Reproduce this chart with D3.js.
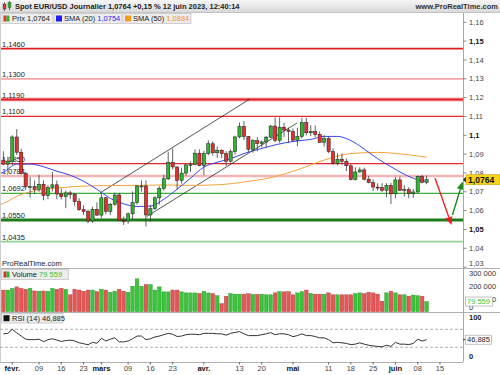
<!DOCTYPE html>
<html>
<head>
<meta charset="utf-8">
<script src="https://cdn.jsdelivr.net/npm/d3@7/dist/d3.min.js"></script>
<style>
  body { margin: 0; background: #fff; }
  svg { display: block; font-family: "Liberation Sans", Arial, sans-serif; }
</style>
</head>
<body>
<svg id="chart" width="500" height="375"></svg>
<script>
// trading days (2023), one candle each
const days = [
  '01-30', '01-31',
  '02-01', '02-02', '02-03', '02-06', '02-07', '02-08', '02-09', '02-10', '02-13', '02-14',
  '02-15', '02-16', '02-17', '02-20', '02-21', '02-22', '02-23', '02-24', '02-27', '02-28',
  '03-01', '03-02', '03-03', '03-06', '03-07', '03-08', '03-09', '03-10', '03-13', '03-14',
  '03-15', '03-16', '03-17', '03-20', '03-21', '03-22', '03-23', '03-24', '03-27', '03-28',
  '03-29', '03-30', '03-31',
  '04-03', '04-04', '04-05', '04-06', '04-07', '04-10', '04-11', '04-12', '04-13', '04-14',
  '04-17', '04-18', '04-19', '04-20', '04-21', '04-24', '04-25', '04-26', '04-27', '04-28',
  '05-01', '05-02', '05-03', '05-04', '05-05', '05-08', '05-09', '05-10', '05-11', '05-12',
  '05-15', '05-16', '05-17', '05-18', '05-19', '05-22', '05-23', '05-24', '05-25', '05-26',
  '05-29', '05-30', '05-31',
  '06-01', '06-02', '06-05', '06-06', '06-07', '06-08', '06-09', '06-12'
]
const futureDays = ['06-13', '06-14', '06-15', '06-16', '06-19']

const open = [
  1.0868, 1.0847,
  1.0863, 1.0991, 1.0910, 1.0797, 1.0727, 1.0727, 1.0713, 1.0740, 1.0680, 1.0722,
  1.0737, 1.0688, 1.0674, 1.0694, 1.0687, 1.0648, 1.0605, 1.0596, 1.0545, 1.0607,
  1.0576, 1.0668, 1.0596, 1.0634, 1.0683, 1.0548, 1.0545, 1.0583, 1.0642, 1.0731,
  1.0731, 1.0577, 1.0610, 1.0668, 1.0717, 1.0769, 1.0856, 1.0832, 1.0760, 1.0799,
  1.0843, 1.0845, 1.0905,
  1.0839, 1.0902, 1.0955, 1.0907, 1.0921, 1.0902, 1.0862, 1.0913, 1.0991, 1.1046,
  1.0993, 1.0925, 1.0971, 1.0956, 1.0965, 1.0990, 1.1049, 1.0973, 1.1043, 1.1028,
  1.1020, 1.0974, 1.0994, 1.1067, 1.1013, 1.1020, 1.1005, 1.0962, 1.0982, 1.0914,
  1.0850, 1.0873, 1.0862, 1.0838, 1.0766, 1.0805, 1.0816, 1.0767, 1.0749, 1.0725,
  1.0722, 1.0707, 1.0733,
  1.0689, 1.0763, 1.0708, 1.0712, 1.0692, 1.0699, 1.0781, 1.0749
]
const high = [
  1.0915, 1.0887,
  1.1000, 1.1033, 1.0928, 1.0805, 1.0777, 1.0760, 1.0790, 1.0760, 1.0736, 1.0805,
  1.0760, 1.0718, 1.0707, 1.0705, 1.0694, 1.0665, 1.0628, 1.0605, 1.0621, 1.0644,
  1.0691, 1.0672, 1.0640, 1.0695, 1.0694, 1.0568, 1.0590, 1.0701, 1.0736, 1.0760,
  1.0760, 1.0630, 1.0675, 1.0730, 1.0790, 1.0912, 1.0930, 1.0835, 1.0828, 1.0845,
  1.0860, 1.0926, 1.0925,
  1.0917, 1.0973, 1.0968, 1.0940, 1.0925, 1.0915, 1.0925, 1.0998, 1.1068, 1.1076,
  1.0996, 1.0980, 1.0990, 1.0972, 1.0997, 1.1055, 1.1095, 1.1095, 1.1067, 1.1040,
  1.1036, 1.1040, 1.1092, 1.1092, 1.1054, 1.1052, 1.1020, 1.1002, 1.0993, 1.0930,
  1.0905, 1.0904, 1.0876, 1.0847, 1.0830, 1.0830, 1.0828, 1.0785, 1.0765, 1.0745,
  1.0745, 1.0745, 1.0747,
  1.0779, 1.0780, 1.0735, 1.0725, 1.0715, 1.0785, 1.0790, 1.0787
]
const low = [
  1.0841, 1.0801,
  1.0843, 1.0896, 1.0792, 1.0710, 1.0669, 1.0690, 1.0700, 1.0655, 1.0660, 1.0702,
  1.0660, 1.0659, 1.0613, 1.0663, 1.0625, 1.0598, 1.0577, 1.0533, 1.0535, 1.0571,
  1.0560, 1.0581, 1.0577, 1.0626, 1.0545, 1.0524, 1.0530, 1.0552, 1.0632, 1.0701,
  1.0516, 1.0541, 1.0604, 1.0632, 1.0705, 1.0762, 1.0819, 1.0713, 1.0743, 1.0785,
  1.0805, 1.0840, 1.0835,
  1.0788, 1.0895, 1.0893, 1.0880, 1.0878, 1.0837, 1.0855, 1.0898, 1.0985, 1.0975,
  1.0912, 1.0908, 1.0915, 1.0936, 1.0935, 1.0985, 1.0964, 1.0960, 1.0990, 1.0960,
  1.0967, 1.0942, 1.0983, 1.1000, 1.0995, 1.0990, 1.0960, 1.0940, 1.0905, 1.0844,
  1.0840, 1.0845, 1.0810, 1.0760, 1.0760, 1.0802, 1.0760, 1.0745, 1.0705, 1.0706,
  1.0700, 1.0670, 1.0635,
  1.0665, 1.0703, 1.0675, 1.0665, 1.0668, 1.0694, 1.0745, 1.0740
]
const close = [
  1.0847, 1.0863,
  1.0991, 1.0910, 1.0797, 1.0727, 1.0727, 1.0713, 1.0740, 1.0680, 1.0722, 1.0737,
  1.0688, 1.0674, 1.0694, 1.0687, 1.0648, 1.0605, 1.0596, 1.0545, 1.0607, 1.0576,
  1.0668, 1.0596, 1.0634, 1.0683, 1.0548, 1.0545, 1.0583, 1.0642, 1.0731, 1.0731,
  1.0577, 1.0610, 1.0668, 1.0717, 1.0769, 1.0856, 1.0832, 1.0760, 1.0799, 1.0843,
  1.0845, 1.0905, 1.0839,
  1.0902, 1.0955, 1.0907, 1.0921, 1.0902, 1.0862, 1.0913, 1.0991, 1.1046, 1.0993,
  1.0925, 1.0971, 1.0956, 1.0965, 1.0990, 1.1049, 1.0973, 1.1043, 1.1028, 1.1020,
  1.0974, 1.0994, 1.1067, 1.1013, 1.1020, 1.1005, 1.0962, 1.0982, 1.0914, 1.0850,
  1.0873, 1.0862, 1.0838, 1.0766, 1.0805, 1.0816, 1.0767, 1.0749, 1.0725, 1.0722,
  1.0707, 1.0733, 1.0689,
  1.0763, 1.0708, 1.0712, 1.0692, 1.0699, 1.0781, 1.0749, 1.0764
]
const volume = [
  169000, 169000, 182000, 194000, 182000, 175000, 182000, 162000, 160000, 162000,
  160000, 182000, 175000, 182000, 175000, 132000, 175000, 169000, 160000, 169000,
  169000, 157000, 175000, 169000, 152000, 160000, 175000, 160000, 152000, 199000,
  257000, 199000, 212000, 212000, 169000, 194000, 155000, 155000, 169000, 169000,
  155000, 147000, 147000, 147000, 142000, 160000, 147000, 142000, 125000, 63000,
  120000, 142000, 137000, 137000, 137000, 140000,
  135000, 135000, 137000, 132000, 132000, 147000, 157000, 155000, 157000, 132000,
  147000, 157000, 169000, 142000, 137000, 137000, 137000, 147000, 132000, 132000,
  132000, 132000, 132000, 142000, 147000, 142000, 152000, 147000, 137000, 82000,
  147000, 160000, 147000, 132000, 132000, 122000, 130000, 125000, 120000, 79559
]
const rsi = [
  60, 61, 70, 62, 55, 48, 47, 47, 48, 42.5,
  47, 49, 46, 43, 45, 46, 44, 40, 38, 35.6,
  41, 39, 50, 44, 48, 51, 42, 42, 44, 49,
  55, 55, 47, 49, 53, 55, 58, 61, 59, 54,
  55, 58, 59, 59, 58, 61, 61, 61, 60, 60,
  57, 61, 63, 65, 60, 56,
  56, 56, 58, 60, 62.5, 58, 60, 60, 58, 53.7,
  56, 60, 56, 56, 54, 51, 51, 47, 40, 41,
  40, 38.5, 36, 37, 40, 37, 34.6, 33, 32, 31,
  34.6, 32, 41, 37, 37, 36, 38.5, 48, 44, 46.885
]

// moving averages at these day indices
const sma20Idx = [-1, 0, 3, 6, 9, 12, 15, 18, 21, 24, 27, 30, 33, 36, 39, 42, 45, 48, 51, 54,
  57, 60, 63, 66, 69, 72, 75, 78, 81, 84, 87, 90, 93, 95]
const sma20 = [1.0795, 1.0804, 1.0847, 1.0847, 1.0833, 1.0809, 1.0788, 1.0756, 1.0713, 1.0665,
  1.0636, 1.0622, 1.0624, 1.0660, 1.0714, 1.0772, 1.0831, 1.0857, 1.0876, 1.0903,
  1.0924, 1.0943, 1.0959, 1.0970, 1.0978, 1.0994, 1.0994, 1.0972, 1.0927, 1.0876,
  1.0833, 1.0793, 1.0764, 1.0754]
const sma50Idx = [-1, 0, 3, 6, 9, 13, 18, 24, 30, 36, 42, 48, 54, 60, 66, 72, 78, 84, 90, 95]
const sma50 = [1.0630, 1.0638, 1.0676, 1.0700, 1.0713, 1.0722, 1.0730, 1.0733, 1.0734, 1.0736,
  1.0734, 1.0737, 1.0752, 1.0775, 1.0817, 1.0868, 1.0903, 1.0909, 1.0899, 1.0884]

// horizontal levels drawn by the author
const levels = [1.1460, 1.1300, 1.1190, 1.1100, 1.0850, 1.0784, 1.0692, 1.0550, 1.0435]
const levelLabels = ['1,1460', '1,1300', '1,1190', '1,1100', '1,0850', '1,0784', '1,0692', '1,0550', '1,0435']

// channel lines and arrows: [dayIndex, price]
const channelUpper = [[21.7, 1.0694], [55.35, 1.1193]]
const channelLower = [[32.2, 1.0569], [65.9, 1.1065]]
const arrowDown = [[96.9, 1.0772], [100.6, 1.0524]]
const arrowUp = [[100.8, 1.0577], [103.1, 1.0754]]

const priceTicks = [1.03, 1.04, 1.05, 1.06, 1.07, 1.08, 1.09, 1.10, 1.11, 1.12, 1.13, 1.14, 1.15, 1.16]
const priceTickLabels = ['1,03', '1,04', '1,05', '1,06', '1,07', '1,08', '1,09', '1,1', '1,11', '1,12', '1,13', '1,14', '1,15', '1,16']
const volTicks = [0, 100000, 200000, 300000]
const volTickLabels = ['0', '100 000', '200 000', '300 000']
const xTickDays = ['02-01', '02-09', '02-16', '02-23', '03-01', '03-09', '03-16', '03-23', '04-03',
  '04-13', '04-20', '05-01', '05-11', '05-18', '05-25', '06-01', '06-08', '06-15']
const xTickLabels = ['févr.', '09', '16', '23', 'mars', '09', '16', '23', 'avr.',
  '13', '20', 'mai', '11', '18', '25', 'juin', '08', '15']

const lastPrice = '1,0764'
const lastVolume = '79 559'
const lastRsi = '46,885'

// ---- styles / layout
const levelStyle = [
  { color: '#e41f26', width: 1.6 },
  { color: '#f4a5a5', width: 1.8 },
  { color: '#e41f26', width: 2.2, halo: '#f6b4b4' },
  { color: '#e8262d', width: 1.2 },
  { color: '#e8262d', width: 1.2 },
  { color: '#f5b4b4', width: 2.6 },
  { color: '#3aad3a', width: 1.2 },
  { color: '#1d7d1d', width: 3 },
  { color: '#93d493', width: 1.8 }
]
const axisX = 463
const mainTop = 13
const mainBottom = 268
const volBottom = 312
const rsiBottom = 362
const font = 7.5

const svg = d3.select('#chart')
const defs = svg.append('defs')

const grad = defs.append('linearGradient').attr('id', 'hdr').attr('x1', 0).attr('x2', 0).attr('y1', 0).attr('y2', 1)
grad.append('stop').attr('offset', '0%').attr('stop-color', '#f6f6f6')
grad.append('stop').attr('offset', '100%').attr('stop-color', '#d9d9d9')

defs.append('clipPath').attr('id', 'clipMain')
  .append('rect').attr('x', 0).attr('y', mainTop).attr('width', axisX).attr('height', mainBottom - mainTop)

const allDays = days.concat(futureDays)
const x = d3.scaleLinear().domain([0, days.length - 1]).range([3.4, 426.6])
const y = d3.scaleLinear().domain([1.03, 1.16]).range([267.1, 22.3])
const yVol = d3.scaleLinear().domain([0, 300000]).range([311.7, 273.3])
const yRsi = d3.scaleLinear().domain([0, 100]).range([360.8, 315.8])

// ---- header
svg.append('rect').attr('x', 0).attr('y', 0).attr('width', 500).attr('height', 12).attr('fill', 'url(#hdr)')
svg.append('line').attr('x1', 0).attr('x2', 500).attr('y1', 12.5).attr('y2', 12.5).attr('stroke', '#c4c4c4')

const icon = svg.append('g')
icon.append('line').attr('x1', 4.5).attr('x2', 4.5).attr('y1', 2).attr('y2', 11).attr('stroke', '#333').attr('stroke-width', 0.7)
icon.append('rect').attr('x', 3).attr('y', 4).attr('width', 3).attr('height', 5).attr('fill', '#e23030').attr('stroke', '#333').attr('stroke-width', 0.4)
icon.append('line').attr('x1', 9.5).attr('x2', 9.5).attr('y1', 1).attr('y2', 10).attr('stroke', '#333').attr('stroke-width', 0.7)
icon.append('rect').attr('x', 8).attr('y', 2.5).attr('width', 3).attr('height', 5).attr('fill', '#2fb52f').attr('stroke', '#333').attr('stroke-width', 0.4)

svg.append('text').attr('x', 15).attr('y', 9.3).attr('font-size', font).attr('font-weight', 'bold').attr('fill', '#222')
  .text(`Spot EUR/USD Journalier ${lastPrice} +0,15 % 12 juin 2023, 12:40:14`)
svg.append('text').attr('x', 498).attr('y', 9.3).attr('text-anchor', 'end').attr('font-size', font)
  .attr('font-weight', 'bold').attr('fill', '#333').text('www.ProRealTime.com')

// ---- main panel: levels
const gLevels = svg.append('g')
levels.forEach((v, i) => {
  const st = levelStyle[i]
  if (st.halo) {
    gLevels.append('line').attr('x1', 0).attr('x2', axisX).attr('y1', y(v)).attr('y2', y(v))
      .attr('stroke', st.halo).attr('stroke-width', 4.2)
  }
  gLevels.append('line').attr('x1', 0).attr('x2', axisX).attr('y1', y(v)).attr('y2', y(v))
    .attr('stroke', st.color).attr('stroke-width', st.width)
  gLevels.append('text').attr('x', 2).attr('y', y(v) - 2).attr('font-size', font).attr('fill', '#222')
    .text(levelLabels[i])
})

const main = svg.append('g').attr('clip-path', 'url(#clipMain)')

const pt = (p) => [x(p[0]), y(p[1])]
;[channelUpper, channelLower].forEach((ln) => {
  main.append('line')
    .attr('x1', pt(ln[0])[0]).attr('y1', pt(ln[0])[1])
    .attr('x2', pt(ln[1])[0]).attr('y2', pt(ln[1])[1])
    .attr('stroke', '#2a2a2a').attr('stroke-width', 0.8)
})

const smaLine = d3.line().x((d) => x(d[0])).y((d) => y(d[1])).curve(d3.curveMonotoneX)
main.append('path').attr('d', smaLine(sma50Idx.map((k, i) => [k, sma50[i]])))
  .attr('fill', 'none').attr('stroke', '#f4a23c').attr('stroke-width', 1)
main.append('path').attr('d', smaLine(sma20Idx.map((k, i) => [k, sma20[i]])))
  .attr('fill', 'none').attr('stroke', '#3346f0').attr('stroke-width', 1)

// ---- candles
const candles = days.map((d, i) => ({ i, o: open[i], h: high[i], l: low[i], c: close[i], v: volume[i] }))
const isUp = (d) => d.c >= d.o

main.selectAll('line.wick')
  .data(candles)
  .enter()
  .append('line')
  .attr('class', 'wick')
  .attr('x1', (d) => x(d.i)).attr('x2', (d) => x(d.i))
  .attr('y1', (d) => y(d.h)).attr('y2', (d) => y(d.l))
  .attr('stroke', '#3a3a3a').attr('stroke-width', 0.8)

main.selectAll('rect.body')
  .data(candles)
  .enter()
  .append('rect')
  .attr('class', 'body')
  .attr('x', (d) => x(d.i) - 1.6)
  .attr('width', 3.2)
  .attr('y', (d) => y(Math.max(d.o, d.c)))
  .attr('height', (d) => Math.max(1, Math.abs(y(d.o) - y(d.c))))
  .attr('fill', (d) => isUp(d) ? '#2fb52f' : '#e23030')
  .attr('stroke', '#1a1a1a').attr('stroke-width', 0.5)

// ---- arrows
const drawArrow = (a, color) => {
  const [x1, y1] = pt(a[0])
  const [x2, y2] = pt(a[1])
  const ang = Math.atan2(y2 - y1, x2 - x1)
  const len = 8
  const half = 3.6
  const bx = x2 - len * Math.cos(ang)
  const by = y2 - len * Math.sin(ang)
  svg.append('line').attr('x1', x1).attr('y1', y1).attr('x2', bx).attr('y2', by)
    .attr('stroke', color).attr('stroke-width', 1.4)
  svg.append('path')
    .attr('d', `M ${x2} ${y2} L ${bx + half * Math.sin(ang)} ${by - half * Math.cos(ang)} L ${bx - half * Math.sin(ang)} ${by + half * Math.cos(ang)} z`)
    .attr('fill', color)
}
drawArrow(arrowDown, '#ee1c1c')
drawArrow(arrowUp, '#1e8a1e')

// ---- legend boxes
const legend = svg.append('g')
const legendBox = (x0, w) => legend.append('rect').attr('x', x0 + 0.5).attr('y', 13.5).attr('width', w).attr('height', 10)
  .attr('fill', '#ececec').attr('stroke', '#c6c6c6').attr('stroke-width', 0.8)
legendBox(1.5, 51)
legend.append('rect').attr('x', 3.5).attr('y', 15.5).attr('width', 3).attr('height', 6).attr('fill', '#e23030')
legend.append('rect').attr('x', 6.5).attr('y', 15.5).attr('width', 3).attr('height', 6).attr('fill', '#2fb52f')
legend.append('text').attr('x', 12).attr('y', 21.3).attr('font-size', font).attr('fill', '#222').text(`Prix ${lastPrice}`)

legendBox(53.5, 68)
legend.append('rect').attr('x', 56).attr('y', 15.5).attr('width', 6).attr('height', 6).attr('fill', '#1c1cf0')
const t20 = legend.append('text').attr('x', 64).attr('y', 21.3).attr('font-size', font).attr('fill', '#222')
t20.append('tspan').text('SMA (20) ')
t20.append('tspan').attr('fill', '#2a2aee').text('1,0754')

legendBox(122.5, 68)
legend.append('rect').attr('x', 125).attr('y', 15.5).attr('width', 6).attr('height', 6).attr('fill', '#f79a1c')
const t50 = legend.append('text').attr('x', 133).attr('y', 21.3).attr('font-size', font).attr('fill', '#222')
t50.append('tspan').text('SMA (50) ')
t50.append('tspan').attr('fill', '#f39a26').text('1,0884')

svg.append('text').attr('x', 2).attr('y', 265.5).attr('font-size', font).attr('fill', '#222').text('ProRealTime.com')

// ---- right price axis
const axis = svg.append('g')
axis.append('line').attr('x1', axisX + 0.5).attr('x2', axisX + 0.5).attr('y1', mainTop).attr('y2', rsiBottom)
  .attr('stroke', '#a8a8a8')
priceTicks.forEach((v, i) => {
  const bold = Math.round(v * 100) % 5 === 0
  // keep the lowest label inside the price panel
  const ly = Math.min(y(v) + 2.7, mainBottom - 2.5)
  axis.append('line').attr('x1', axisX).attr('x2', axisX + 3.5).attr('y1', y(v)).attr('y2', y(v)).attr('stroke', '#888')
  axis.append('text').attr('x', axisX + 6).attr('y', ly).attr('font-size', font)
    .attr('font-weight', bold ? 'bold' : 'normal').attr('fill', bold ? '#111' : '#444')
    .text(priceTickLabels[i])
})
const lastY = y(close[close.length - 1])
axis.append('path').attr('d', `M ${axisX} ${lastY} L ${axisX + 3} ${lastY - 3} L ${axisX + 3} ${lastY + 3} z`).attr('fill', '#222')
axis.append('rect').attr('x', axisX + 3).attr('y', lastY - 5).attr('width', 34).attr('height', 10)
  .attr('fill', '#f7d21a').attr('stroke', '#c9a80a').attr('stroke-width', 0.6)
axis.append('text').attr('x', axisX + 5).attr('y', lastY + 3.1).attr('font-size', 8.6).attr('font-weight', 'bold')
  .attr('fill', '#111').text(lastPrice)

// ---- panel separators
;[mainBottom, volBottom].forEach((py) => {
  svg.append('line').attr('x1', 0).attr('x2', 500).attr('y1', py + 0.5).attr('y2', py + 0.5).attr('stroke', '#b0b0b0')
})
svg.append('line').attr('x1', 0).attr('x2', axisX).attr('y1', rsiBottom + 0.5).attr('y2', rsiBottom + 0.5).attr('stroke', '#b0b0b0')
svg.append('line').attr('x1', 0.5).attr('x2', 0.5).attr('y1', mainTop).attr('y2', rsiBottom).attr('stroke', '#cfcfcf')

// ---- volume panel
const vol = svg.append('g')
vol.selectAll('rect')
  .data(candles)
  .enter()
  .append('rect')
  .attr('x', (d) => x(d.i) - 1.8)
  .attr('width', 3.6)
  .attr('y', (d) => yVol(d.v))
  .attr('height', (d) => yVol(0) - yVol(d.v))
  .attr('fill', (d) => isUp(d) ? '#3cc43c' : '#e25858')
  .attr('stroke', (d) => isUp(d) ? '#1f8f1f' : '#b52e2e')
  .attr('stroke-width', 0.4)

vol.append('rect').attr('x', 1.5).attr('y', 269.5).attr('width', 67).attr('height', 10)
  .attr('fill', '#ececec').attr('stroke', '#c6c6c6').attr('stroke-width', 0.8)
vol.append('rect').attr('x', 3.5).attr('y', 271.5).attr('width', 3).attr('height', 6).attr('fill', '#e23030')
vol.append('rect').attr('x', 6.5).attr('y', 271.5).attr('width', 3).attr('height', 6).attr('fill', '#2fb52f')
const tv = vol.append('text').attr('x', 12).attr('y', 277.4).attr('font-size', font).attr('fill', '#222')
tv.append('tspan').text('Volume ')
tv.append('tspan').attr('fill', '#35c435').text(lastVolume)

volTicks.forEach((v, i) => {
  const ty = v === 0 ? yVol(v) - 1.5 : yVol(v) + 2.7
  vol.append('text').attr('x', axisX + 6).attr('y', ty).attr('font-size', font).attr('fill', '#333').text(volTickLabels[i])
})
const lastVolY = yVol(volume[volume.length - 1])
vol.append('rect').attr('x', axisX + 2.5).attr('y', lastVolY - 4.5).attr('width', 27).attr('height', 9)
  .attr('fill', '#fff').attr('stroke', '#999').attr('stroke-width', 0.6)
vol.append('text').attr('x', axisX + 4).attr('y', lastVolY + 2.7).attr('font-size', font).attr('fill', '#35c435').text(lastVolume)

// ---- RSI panel
const gRsi = svg.append('g')
;[70, 30].forEach((v) => {
  gRsi.append('line').attr('x1', 0).attr('x2', axisX).attr('y1', yRsi(v)).attr('y2', yRsi(v))
    .attr('stroke', '#9a9a9a').attr('stroke-width', 0.8).attr('stroke-dasharray', '3,2')
})
gRsi.append('path')
  .attr('d', d3.line().x((d, i) => x(i)).y((d) => yRsi(d))(rsi))
  .attr('fill', 'none').attr('stroke', '#333').attr('stroke-width', 1)

gRsi.append('rect').attr('x', 1.5).attr('y', 313.5).attr('width', 61.5).attr('height', 9.5)
  .attr('fill', '#ececec').attr('stroke', '#c6c6c6').attr('stroke-width', 0.8)
gRsi.append('rect').attr('x', 3.5).attr('y', 315.2).attr('width', 6).attr('height', 6).attr('fill', '#111')
gRsi.append('text').attr('x', 12).attr('y', 321).attr('font-size', font).attr('fill', '#222').text(`RSI (14) ${lastRsi}`)

gRsi.append('text').attr('x', axisX + 6).attr('y', yRsi(100) + 4).attr('font-size', font).attr('font-weight', 'bold')
  .attr('fill', '#222').text('100')
gRsi.append('text').attr('x', axisX + 6).attr('y', yRsi(0) - 1.5).attr('font-size', font).attr('font-weight', 'bold')
  .attr('fill', '#222').text('0')
const lastRsiY = yRsi(rsi[rsi.length - 1])
gRsi.append('line').attr('x1', axisX).attr('x2', axisX + 3).attr('y1', lastRsiY).attr('y2', lastRsiY).attr('stroke', '#333')
gRsi.append('rect').attr('x', axisX + 2.5).attr('y', lastRsiY - 4.5).attr('width', 26).attr('height', 9)
  .attr('fill', '#fff').attr('stroke', '#999').attr('stroke-width', 0.6)
gRsi.append('text').attr('x', axisX + 4).attr('y', lastRsiY + 2.7).attr('font-size', font).attr('fill', '#222').text(lastRsi)

// ---- x axis
const gx = svg.append('g')
xTickDays.forEach((d, i) => {
  const px = x(allDays.indexOf(d))
  const isMonth = isNaN(+xTickLabels[i])
  gx.append('line').attr('x1', px).attr('x2', px).attr('y1', rsiBottom).attr('y2', rsiBottom + 2.5).attr('stroke', '#666')
  gx.append('text').attr('x', px).attr('y', 370.5).attr('text-anchor', 'middle').attr('font-size', font)
    .attr('font-weight', isMonth ? 'bold' : 'normal').attr('fill', isMonth ? '#111' : '#444')
    .text(xTickLabels[i])
})
</script>
</body>
</html>
